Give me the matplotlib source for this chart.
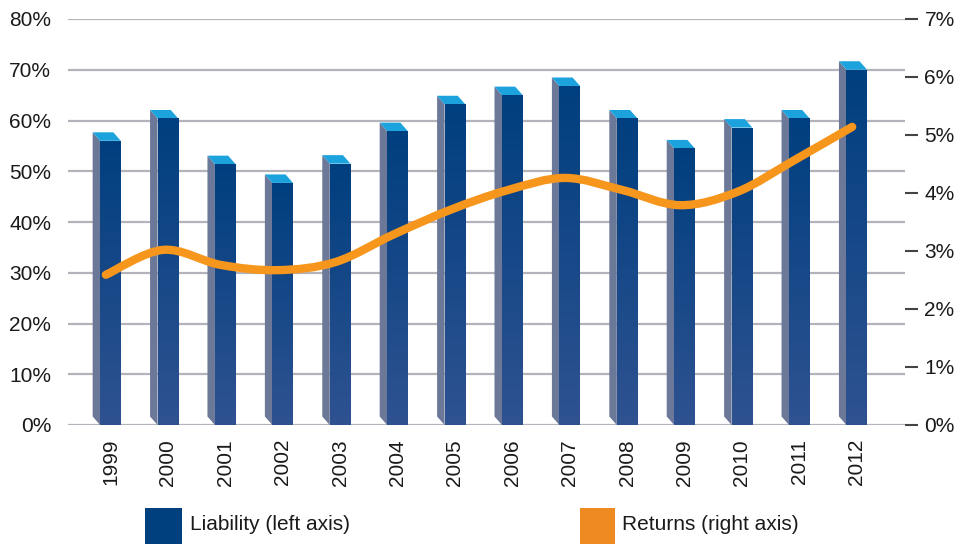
import numpy as np
import matplotlib
matplotlib.use("Agg")
import matplotlib.pyplot as plt
from matplotlib.patches import Polygon, Rectangle
from matplotlib.path import Path
from matplotlib.patches import PathPatch
from matplotlib.colors import LinearSegmentedColormap

plt.rcParams["font.family"] = ["Liberation Sans Narrow", "Liberation Sans", "DejaVu Sans"]

years = ["1999", "2000", "2001", "2002", "2003", "2004", "2005", "2006",
         "2007", "2008", "2009", "2010", "2011", "2012"]
liability = [56.0, 60.4, 51.4, 47.7, 51.5, 57.9, 63.2, 65.0, 66.8, 60.4, 54.5, 58.6, 60.4, 70.0]
returns = [2.59, 3.02, 2.76, 2.67, 2.81, 3.28, 3.71, 4.05, 4.26, 4.05, 3.79, 4.02, 4.57, 5.14]
left_ticks = [0, 10, 20, 30, 40, 50, 60, 70, 80]
right_ticks = [0, 1, 2, 3, 4, 5, 6, 7]

FRONT_TOP = "#003f7f"
FRONT_BOT = "#2f5291"
SIDE = "#6b7898"
TOP = "#1ca3de"
LINE = "#f7961d"
GRID = "#b3b3bb"
TXT = "#1a1a1a"

W, H = 967, 544
fig = plt.figure(figsize=(W / 100, H / 100), dpi=100)
ax = fig.add_axes([68 / W, 1 - 425 / H, (905 - 68) / W, (425 - 19) / H])
ax2 = ax.twinx()

x = np.arange(len(years))
xlim = (-0.74, 13.84)
ax.set_xlim(*xlim)
ax.set_ylim(0, 80)
ax2.set_ylim(0, 7)

# pixel -> data conversion for the fake 3D depth
ax_w_px = 905 - 68
ax_h_px = 425 - 19
dx = 7.5 * (xlim[1] - xlim[0]) / ax_w_px
dy = 8.5 * 80 / ax_h_px
bw = 0.36

for v in left_ticks:
    ax.axhline(v, color=GRID, lw=1.6, zorder=0)

grad = LinearSegmentedColormap.from_list("g", [FRONT_TOP, FRONT_BOT])
for xi, v in zip(x, liability):
    x0, x1 = xi - bw / 2, xi + bw / 2
    side = Polygon([(x0, 0), (x0, v), (x0 - dx, v + dy), (x0 - dx, dy)],
                   closed=True, fc=SIDE, ec="none", zorder=2)
    ax.add_patch(side)
    top = Polygon([(x0, v), (x1, v), (x1 - dx, v + dy), (x0 - dx, v + dy)],
                  closed=True, fc=TOP, ec="none", zorder=2)
    ax.add_patch(top)
    front = Rectangle((x0, 0), bw, v, fc="none", ec="none", zorder=2)
    ax.add_patch(front)
    im = ax.imshow(np.linspace(0, 1, 100).reshape(-1, 1), cmap=grad, aspect="auto",
                   extent=(x0, x1, 0, v), zorder=2.1, interpolation="bilinear")
    im.set_clip_path(front)

ax.set_xlim(*xlim)
ax.set_ylim(0, 80)

# smooth returns line (Catmull-Rom drawn as Bezier segments)
px = x - 0.08
py = np.array(returns)
verts = [(px[0], py[0])]
codes = [Path.MOVETO]
n = len(px)
for i in range(n - 1):
    p0 = np.array([px[max(i - 1, 0)], py[max(i - 1, 0)]])
    p1 = np.array([px[i], py[i]])
    p2 = np.array([px[i + 1], py[i + 1]])
    p3 = np.array([px[min(i + 2, n - 1)], py[min(i + 2, n - 1)]])
    c1 = p1 + (p2 - p0) / 6
    c2 = p2 - (p3 - p1) / 6
    verts += [tuple(c1), tuple(c2), tuple(p2)]
    codes += [Path.CURVE4] * 3
ax2.add_patch(PathPatch(Path(verts, codes), fc="none", ec=LINE, lw=6,
                        capstyle="round", joinstyle="round", zorder=5))

for a in (ax, ax2):
    for s in a.spines.values():
        s.set_visible(False)

ax.set_yticks(left_ticks)
ax.set_yticklabels([f"{v}%" for v in left_ticks], fontsize=15, color=TXT)
ax.tick_params(axis="y", length=0, pad=12)
ax.set_xticks(x)
ax.set_xticklabels(years, rotation=90, fontsize=15, color=TXT)
ax.tick_params(axis="x", length=0, pad=10)

ax2.set_yticks(right_ticks)
ax2.set_yticklabels([f"{v}%" for v in right_ticks], fontsize=15, color=TXT)
ax2.tick_params(axis="y", length=9, width=1.5, color="#444444", pad=5)

# legend
fig.patches.append(Rectangle((145 / W, 0), 37 / W, 36 / H, transform=fig.transFigure,
                             fc="#00407f", ec="none"))
fig.text(190 / W, 1 - 525 / H, "Liability (left axis)", fontsize=15, color=TXT, va="center")
fig.patches.append(Rectangle((580 / W, 0), 35 / W, 36 / H, transform=fig.transFigure,
                             fc="#ee8a22", ec="none"))
fig.text(622 / W, 1 - 525 / H, "Returns (right axis)", fontsize=15, color=TXT, va="center")

fig.savefig("out.png", dpi=100)
